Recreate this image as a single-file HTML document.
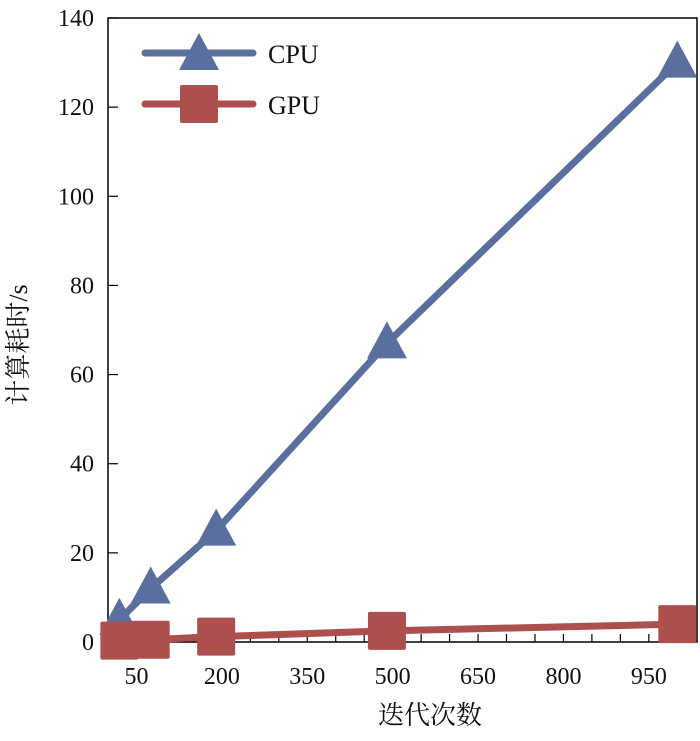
<!DOCTYPE html>
<html><head><meta charset="utf-8"><style>
body{margin:0;background:#fff}
svg text{font-family:"Liberation Serif","Noto Serif CJK SC",serif;fill:#111}
</style></head><body>
<svg id="c" width="700" height="736"></svg>
<script>
const xValues=[20,75,190,490,1000];
const cpuValues=[5,12,25,67,130];
const gpuValues=[0.3,0.5,1.2,2.5,4];
const xTicks=[50,200,350,500,650,800,950];
const yTicks=[0,20,40,60,80,100,120,140];
const L=108,R=697,T=18,B=642;
const xs=v=>L+v*0.5693;
const ys=v=>B-v*(B-T)/140;
const s=document.getElementById('c');
const NS='http://www.w3.org/2000/svg';
function mk(tag,attrs,parent){const e=document.createElementNS(NS,tag);for(const k in attrs)e.setAttribute(k,attrs[k]);(parent||s).appendChild(e);return e;}
const frame=mk('rect',{x:L,y:T,width:R-L,height:B-T,fill:'none',stroke:'#000','stroke-width':1.5});


for(let v=0;v<=1000;v+=50){const t=mk('line',{x1:xs(v),x2:xs(v),y1:B,y2:B-8,stroke:'#000','stroke-width':1.2});

}
xTicks.forEach(v=>{const t=mk('text',{x:xs(v),y:B+42,'font-size':24,'text-anchor':'middle'});t.textContent=v;

});
yTicks.forEach(v=>{const l=mk('line',{x1:L,x2:L+10,y1:ys(v),y2:ys(v),stroke:'#000','stroke-width':1.2});


const t=mk('text',{x:L-14,y:ys(v)+8,'font-size':24,'text-anchor':'end'});t.textContent=v;

});
const xt=mk('text',{x:430,y:724,'font-size':26,'text-anchor':'middle'});xt.textContent='迭代次数';


const yt=mk('text',{x:0,y:0,'font-size':26,'text-anchor':'middle',transform:'translate(27,345) rotate(-90)'});yt.textContent='计算耗时/s';


function tri(cx,cy,col,p){return mk('polygon',{points:`${cx},${cy-22} ${cx-20},${cy+15} ${cx+20},${cy+15}`,fill:col},p);}
function sq(cx,cy,col,p){return mk('rect',{x:cx-19,y:cy-19,width:38,height:38,rx:2,fill:col},p);}
const blue='#5b6f9e',red='#ad4f4d';
const gl=mk('polyline',{points:xValues.map((x,i)=>xs(x)+','+ys(gpuValues[i])).join(' '),fill:'none',stroke:red,'stroke-width':7,'stroke-linejoin':'round'});


const cl=mk('polyline',{points:xValues.map((x,i)=>xs(x)+','+ys(cpuValues[i])).join(' '),fill:'none',stroke:blue,'stroke-width':7,'stroke-linejoin':'round'});


xValues.forEach((x,i)=>{const m=tri(xs(x),ys(cpuValues[i]),blue);

});
xValues.forEach((x,i)=>{const m=sq(xs(x),ys(gpuValues[i]),red);

});
const lg=mk('g',{});


mk('line',{x1:145,x2:253,y1:53,y2:53,stroke:blue,'stroke-width':7,'stroke-linecap':'round'},lg);
tri(199,55,blue,lg);
const t1=mk('text',{x:268,y:63,'font-size':26},lg);t1.textContent='CPU';
mk('line',{x1:145,x2:253,y1:104,y2:104,stroke:red,'stroke-width':7,'stroke-linecap':'round'},lg);
sq(199,104,red,lg);
const t2=mk('text',{x:268,y:114,'font-size':26},lg);t2.textContent='GPU';
</script>
</body></html>
